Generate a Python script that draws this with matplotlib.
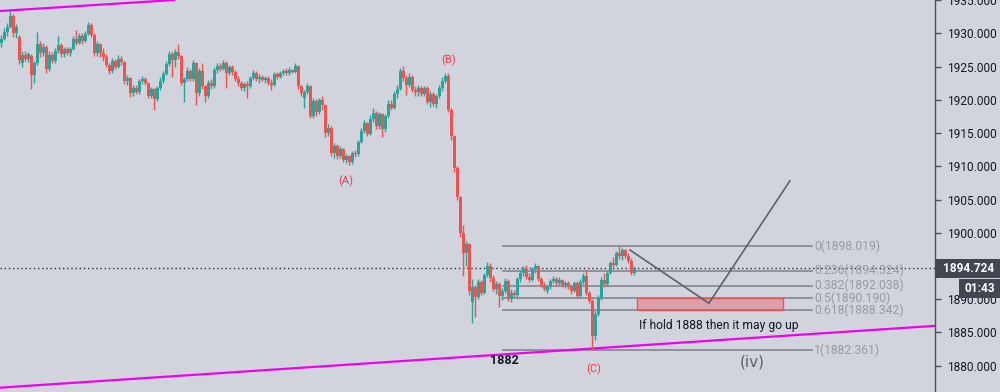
import matplotlib
matplotlib.use("Agg")
import matplotlib.pyplot as plt
from matplotlib.patches import Rectangle
import numpy as np

# ---------------- data ----------------
opens = [1928.6,1929.2,1930.2,1931.0,1932.6,1930.0,1929.5,1925.6,1926.8,1926.1,
 1926.6,1923.8,1925.5,1928.4,1927.0,1928.0,1924.6,1926.8,1925.9,1927.3,
 1928.3,1926.9,1927.6,1927.1,1927.7,1929.2,1928.6,1929.6,1928.8,1929.9,
 1931.3,1929.8,1927.0,1928.4,1927.0,1926.4,1925.2,1924.3,1925.9,1925.0,
 1926.2,1925.7,1922.8,1923.3,1921.0,1921.8,1921.1,1922.8,1923.2,1922.5,
 1920.6,1921.6,1920.1,1921.8,1922.9,1923.9,1925.4,1926.9,1926.0,1927.2,
 1926.6,1922.6,1923.1,1924.4,1923.2,1925.5,1921.0,1924.3,1922.0,1920.5,
 1922.6,1922.0,1924.5,1925.1,1924.7,1925.6,1924.0,1924.9,1924.2,1923.2,
 1922.5,1921.7,1922.4,1922.0,1923.3,1924.1,1923.2,1923.5,1923.0,1923.3,
 1922.6,1922.3,1923.9,1923.5,1924.0,1924.4,1924.0,1924.5,1924.2,1925.1,
 1922.0,1920.2,1921.1,1922.1,1917.6,1919.8,1918.1,1919.9,1919.2,1915.0,
 1915.8,1912.0,1913.0,1911.5,1912.6,1911.0,1911.5,1910.6,1912.0,1911.8,
 1913.7,1915.3,1916.5,1914.9,1917.1,1918.0,1916.0,1917.8,1915.6,1917.5,
 1919.4,1918.8,1920.9,1921.6,1924.3,1923.3,1922.2,1923.5,1921.5,1921.2,
 1921.8,1920.9,1921.7,1919.7,1920.8,1919.4,1920.5,1921.8,1922.9,1923.6,
 1918.5,1914.5,1909.8,1905.4,1900.0,1897.0,1898.3,1889.6,1891.8,1890.4,
 1892.6,1891.0,1893.6,1895.0,1893.2,1891.6,1892.3,1890.5,1891.3,1892.8,
 1890.0,1891.0,1890.6,1893.0,1894.0,1894.5,1893.4,1892.9,1894.5,1895.0,
 1893.0,1892.2,1891.2,1891.9,1892.7,1893.1,1892.5,1892.9,1892.1,1892.4,
 1891.8,1891.3,1892.5,1890.5,1892.6,1893.5,1891.0,1889.8,1884.5,1887.8,
 1890.2,1892.9,1892.3,1894.0,1895.5,1895.2,1896.9,1896.5,1897.4,1896.5,
 1895.8,1893.9]
highs = [1929.8,1930.8,1931.5,1933.3,1932.9,1931.4,1929.8,1927.3,1927.4,1927.2,
 1926.9,1925.9,1930.2,1928.8,1928.6,1928.2,1927.3,1927.2,1927.8,1929.6,
 1928.6,1928.0,1928.0,1928.0,1929.6,1930.5,1930.0,1930.0,1930.3,1931.7,
 1931.6,1930.0,1928.8,1928.6,1927.8,1926.9,1925.6,1926.3,1926.2,1926.7,
 1926.6,1925.9,1923.7,1923.5,1922.2,1922.2,1923.2,1923.6,1923.5,1922.7,
 1921.9,1921.8,1922.1,1923.4,1924.3,1925.8,1927.3,1927.3,1927.6,1928.4,
 1926.8,1923.5,1924.9,1924.7,1926.0,1925.7,1924.8,1925.5,1922.3,1923.0,
 1923.1,1924.9,1925.5,1925.5,1926.0,1925.9,1925.3,1925.2,1924.5,1923.6,
 1922.8,1922.7,1922.8,1923.6,1924.5,1924.4,1923.9,1923.8,1923.6,1923.6,
 1923.1,1924.2,1924.2,1924.3,1924.7,1924.8,1924.9,1924.7,1925.5,1925.3,
 1922.3,1921.4,1922.6,1922.3,1920.2,1920.1,1920.3,1920.6,1919.4,1916.3,
 1916.0,1913.5,1913.3,1913.0,1912.8,1911.8,1911.7,1912.3,1912.5,1914.0,
 1915.7,1916.9,1916.7,1917.7,1918.8,1918.3,1918.2,1918.0,1917.9,1919.9,
 1920.0,1921.3,1922.2,1924.8,1925.1,1923.7,1924.0,1923.8,1922.0,1922.3,
 1922.1,1922.0,1922.0,1921.3,1921.1,1920.9,1922.2,1923.4,1924.0,1924.0,
 1918.7,1914.7,1910.0,1905.6,1901.1,1898.8,1898.5,1893.0,1892.2,1893.0,
 1892.9,1894.0,1895.6,1895.4,1893.6,1892.8,1892.6,1891.7,1893.2,1893.0,
 1891.5,1891.4,1893.4,1894.4,1895.0,1895.1,1894.0,1894.8,1895.4,1895.2,
 1893.3,1892.6,1892.2,1893.0,1893.5,1893.4,1893.3,1893.1,1892.8,1892.7,
 1892.2,1892.8,1892.7,1893.0,1893.9,1894.4,1891.2,1890.0,1888.2,1890.6,
 1893.3,1894.0,1894.3,1895.8,1896.3,1897.2,1898.0,1897.7,1897.6,1897.0,
 1896.2,1895.0]
lows = [1928.0,1929.0,1929.6,1930.8,1929.5,1929.3,1925.4,1924.9,1925.8,1925.7,
 1921.6,1922.6,1925.2,1926.5,1926.6,1924.0,1924.4,1925.5,1925.6,1927.0,
 1926.5,1926.5,1926.8,1926.6,1927.5,1928.2,1928.4,1928.4,1928.7,1929.7,
 1929.5,1926.6,1926.6,1926.5,1925.8,1924.9,1923.9,1924.0,1924.6,1924.8,
 1925.3,1922.4,1922.3,1920.4,1920.6,1920.8,1920.9,1922.4,1922.2,1920.2,
 1920.3,1918.5,1919.8,1921.5,1922.5,1923.7,1925.1,1923.4,1925.0,1926.2,
 1922.2,1919.7,1922.8,1922.9,1922.9,1919.2,1920.6,1921.6,1919.7,1920.3,
 1921.6,1921.8,1924.1,1924.3,1924.5,1921.8,1923.7,1923.8,1922.9,1922.1,
 1921.4,1921.3,1920.3,1921.8,1923.0,1922.9,1922.6,1922.8,1922.5,1922.3,
 1921.5,1922.0,1923.2,1923.3,1923.7,1923.7,1923.8,1924.0,1924.0,1921.6,
 1920.5,1918.8,1920.9,1917.2,1917.3,1917.6,1917.8,1918.5,1914.4,1914.6,
 1911.5,1911.3,1911.1,1911.2,1910.6,1910.5,1910.2,1910.4,1911.4,1911.6,
 1913.5,1915.0,1914.5,1914.7,1916.6,1915.6,1915.6,1914.4,1915.2,1917.3,
 1918.4,1918.6,1920.3,1921.4,1922.9,1920.7,1921.9,1921.1,1920.5,1920.6,
 1920.5,1920.6,1919.3,1918.9,1919.1,1918.8,1920.3,1921.3,1922.5,1918.2,
 1914.0,1909.2,1904.9,1899.4,1893.5,1895.0,1890.6,1886.4,1887.3,1890.0,
 1890.7,1890.8,1893.3,1892.6,1891.2,1890.8,1888.8,1889.9,1891.0,1889.7,
 1889.6,1890.3,1890.4,1892.6,1893.5,1893.1,1892.6,1892.7,1894.0,1892.7,
 1891.8,1891.2,1890.9,1891.6,1892.4,1892.2,1892.1,1891.8,1891.7,1891.5,
 1890.8,1891.1,1890.2,1890.3,1892.3,1890.7,1889.4,1882.36,1883.8,1887.5,
 1889.9,1891.8,1892.0,1893.8,1894.8,1895.0,1896.1,1895.9,1896.2,1895.5,
 1893.6,1893.7]
closes = [1929.2,1930.2,1931.0,1932.6,1930.0,1930.9,1926.0,1926.8,1926.1,1926.9,
 1923.8,1925.5,1928.4,1927.0,1928.0,1924.6,1926.8,1925.9,1927.3,1928.3,
 1926.9,1927.6,1927.1,1927.7,1929.2,1928.6,1929.6,1928.8,1929.9,1931.3,
 1929.8,1927.0,1928.4,1927.0,1926.4,1925.2,1924.3,1925.9,1925.0,1926.2,
 1925.7,1922.8,1923.3,1921.0,1921.8,1921.1,1922.8,1923.2,1922.5,1920.6,
 1921.6,1920.1,1921.8,1922.9,1923.9,1925.4,1926.9,1926.0,1927.2,1926.6,
 1922.6,1923.1,1924.4,1923.2,1925.5,1921.0,1924.3,1922.0,1920.5,1922.6,
 1922.0,1924.5,1925.1,1924.7,1925.6,1924.0,1924.9,1924.2,1923.2,1922.5,
 1921.7,1922.4,1922.0,1923.3,1924.1,1923.2,1923.5,1923.0,1923.3,1922.6,
 1922.3,1923.9,1923.5,1924.0,1924.4,1924.0,1924.5,1924.2,1925.1,1922.0,
 1921.0,1921.1,1922.1,1917.6,1919.8,1918.1,1919.9,1919.2,1915.0,1915.8,
 1912.0,1913.0,1911.5,1912.6,1911.0,1911.5,1910.6,1912.0,1911.8,1913.7,
 1915.3,1916.5,1914.9,1917.1,1918.0,1916.0,1917.8,1915.6,1917.5,1919.4,
 1918.8,1920.9,1921.6,1924.3,1923.3,1922.2,1923.5,1921.5,1921.2,1921.8,
 1920.9,1921.7,1919.7,1920.8,1919.4,1920.5,1921.8,1922.9,1923.6,1918.5,
 1914.5,1909.8,1905.4,1900.0,1897.0,1898.3,1891.2,1891.8,1890.4,1892.6,
 1891.0,1893.6,1895.0,1893.2,1891.6,1892.3,1890.5,1891.3,1892.8,1890.0,
 1891.0,1890.6,1893.0,1894.0,1894.5,1893.4,1892.9,1894.5,1895.0,1893.0,
 1892.2,1891.5,1891.9,1892.7,1893.1,1892.5,1892.9,1892.1,1892.4,1891.8,
 1891.3,1892.5,1890.5,1892.6,1893.5,1891.0,1889.8,1884.5,1887.8,1890.2,
 1892.9,1892.3,1894.0,1895.5,1895.2,1896.9,1896.5,1897.4,1896.5,1895.8,
 1893.9,1894.724]

last_price = 1894.724
fib_ratios = ["0", "0.236", "0.382", "0.5", "0.618", "1"]
fib_levels = [1898.019, 1894.324, 1892.038, 1890.190, 1888.342, 1882.361]
fib_x = [167.2, 270.2]
zone_x = [211.8, 260.5]
zone_prices = [1888.342, 1890.190]
upper_trend_x = [-0.5, 57.2]
upper_trend_y = [1933.35, 1935.0]
lower_trend_x = [-0.5, 311.2]
lower_trend_y = [1876.7, 1886.0]
path_x = [209.5, 235.8, 262.8]
path_y = [1897.4, 1889.4, 1907.8]
y_ticks = [1880, 1885, 1890, 1895, 1900, 1905, 1910, 1915, 1920, 1925, 1930, 1935]

# ---------------- style ----------------
BG = "#d1d4dc"
UP = "#26a69a"
DOWN = "#ef5350"
LABEL_RED = "#f23645"
AXIS = "#50535e"
FONT = ["Roboto", "DejaVu Sans"]
plt.rcParams["font.family"] = FONT

fig = plt.figure(figsize=(10, 3.92), dpi=100)
fig.patch.set_facecolor(BG)
ax = fig.add_axes([0, 0, 0.935, 1])
ax.set_facecolor(BG)

n = len(closes)
x = np.arange(n)
o = np.array(opens); c = np.array(closes)
h = np.array(highs); l = np.array(lows)
up = c >= o
cols = np.where(up, UP, DOWN)

ax.vlines(x, l, h, colors=cols, linewidth=1.0, zorder=3)
body_h = np.maximum(np.abs(c - o), 0.06)
ax.bar(x, body_h, bottom=np.minimum(o, c), width=0.72, color=cols,
       linewidth=0, zorder=4)

# trend lines
ax.axline((upper_trend_x[0], upper_trend_y[0]), (upper_trend_x[1], upper_trend_y[1]),
          color="#f000f0", linewidth=1.6, zorder=2)
ax.axline((lower_trend_x[0], lower_trend_y[0]), (lower_trend_x[1], lower_trend_y[1]),
          color="#f000f0", linewidth=1.6, zorder=2)

# last price dotted line
ax.axhline(last_price, color="#2a2e39", linestyle=(0, (1, 2)), linewidth=1.0, zorder=2)

# fib levels
for r, lev in zip(fib_ratios, fib_levels):
    ax.plot(fib_x, [lev, lev], color="#8a8c94", linewidth=1.3, zorder=1)
    ax.text(fib_x[1] + 0.6, lev, f"{r}({lev:.3f})", color="#979aa3",
            fontsize=8.7, va="center", ha="left", zorder=5)

# zone
ax.add_patch(Rectangle((zone_x[0], zone_prices[0]), zone_x[1] - zone_x[0],
                       zone_prices[1] - zone_prices[0], facecolor="#f23645",
                       alpha=0.33, edgecolor="none", zorder=2))
ax.add_patch(Rectangle((zone_x[0], zone_prices[0]), zone_x[1] - zone_x[0],
                       zone_prices[1] - zone_prices[0], facecolor="none",
                       edgecolor="#e2575c", linewidth=1.0, zorder=2))

# projected path
ax.plot(path_x, path_y, color="#5d606b", linewidth=1.2, zorder=5)

# labels
ax.text(149, 1925.9, "(B)", color=LABEL_RED, fontsize=8, ha="center", va="center")
ax.text(114.7, 1907.8, "(A)", color=LABEL_RED, fontsize=8, ha="center", va="center")
ax.text(197.5, 1879.5, "(C)", color=LABEL_RED, fontsize=8, ha="center", va="center")
ax.text(167.5, 1880.85, "1882", color="#131722", fontsize=9, fontweight="bold",
        ha="center", va="center")
ax.text(250.4, 1880.5, "(iv)", color="#5d606b", fontsize=11, ha="center", va="center",
        family="DejaVu Sans")
ax.text(212.5, 1886.1, "If hold 1888 then it may go up", color="#131722",
        fontsize=8.7, ha="left", va="center")

# axes
ax.set_xlim(-0.5, 311.17)
ax.set_ylim(1876.05, 1935.01)
ax.set_xticks([])
ax.yaxis.tick_right()
ax.set_yticks(y_ticks)
# the 1895 label sits fully under the last-price box, so it is left blank
ax.set_yticklabels(["" if v == 1895 else f"{v:.3f}" for v in y_ticks])
ax.tick_params(axis="y", length=4, width=1, color=AXIS, labelcolor="#131722",
               labelsize=8.6, pad=4.5)
for s in ["left", "top", "bottom"]:
    ax.spines[s].set_visible(False)
ax.spines["right"].set_color(AXIS)
ax.spines["right"].set_linewidth(1.0)

# price label boxes
def fy(py):
    return 1 - py / 392.0

fig.patches.append(Rectangle((0.935, fy(278)), 0.065, (278 - 259) / 392.0,
                             transform=fig.transFigure, facecolor="#434651",
                             edgecolor="none", zorder=10))
fig.text(0.9685, fy(268.5), f"{last_price:.3f}", color="white", fontsize=8.6,
         fontweight="bold", ha="center", va="center", zorder=11)
fig.patches.append(Rectangle((0.959, fy(298)), 0.041, (298 - 279) / 392.0,
                             transform=fig.transFigure, facecolor="#434651",
                             edgecolor="none", zorder=10))
fig.text(0.9795, fy(288.5), "01:43", color="white", fontsize=8.6,
         fontweight="bold", ha="center", va="center", zorder=11)

fig.savefig("out.png", dpi=100, facecolor=BG)
